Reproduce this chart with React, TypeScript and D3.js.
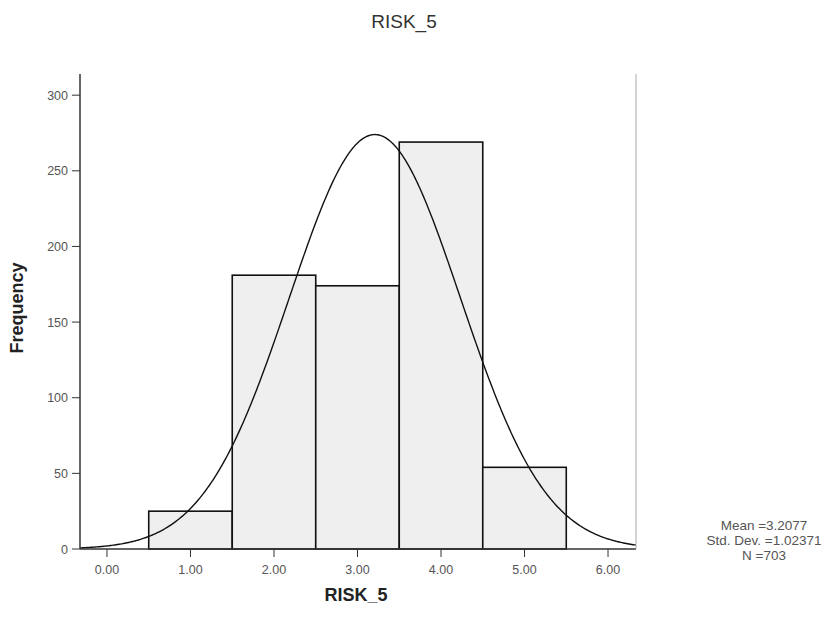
import React from "react";
import * as d3 from "d3";

const binStarts = [0.5, 1.5, 2.5, 3.5, 4.5];
const binWidth = 1;
const frequencies = [25, 181, 174, 269, 54];
const xTicks = [0, 1, 2, 3, 4, 5, 6];
const yTicks = [0, 50, 100, 150, 200, 250, 300];
const meanValue = 3.2077;
const sdValue = 1.02371;
const nValue = 703;
const legendLines = ["Mean =3.2077", "Std. Dev. =1.02371", "N =703"];

const W = 821;
const H = 621;
const left = 80;
const right = 636;
const top = 74;
const bottom = 549;

export default function App() {
  const x = d3.scaleLinear().domain([-0.323, 6.335]).range([left, right]);
  const y = d3.scaleLinear().domain([0, 314]).range([bottom, top]);

  const pdf = (v: number) =>
    ((nValue * binWidth) / (sdValue * Math.sqrt(2 * Math.PI))) *
    Math.exp(-0.5 * ((v - meanValue) / sdValue) ** 2);
  const [d0, d1] = x.domain();
  const pts: [number, number][] = d3.range(0, 401).map((i) => {
    const v = d0 + (i / 400) * (d1 - d0);
    return [v, pdf(v)];
  });
  const line = d3
    .line<[number, number]>()
    .x((d) => x(d[0]))
    .y((d) => y(d[1]));

  const font = "Arial, 'Liberation Sans', sans-serif";

  return (
    <svg
      width={W}
      height={H}
      style={{ position: "absolute", left: 0, top: 0, background: "#fff" }}
      fontFamily={font}
    >
      <rect x={0} y={0} width={W} height={H} fill="#fff" />
      <text x={404} y={28} textAnchor="middle" fontSize={19} fill="#333">
        RISK_5
      </text>

      {frequencies.map((f, i) => (
        <rect
          key={i}
          x={x(binStarts[i])}
          y={y(f)}
          width={x(binStarts[i] + binWidth) - x(binStarts[i])}
          height={y(0) - y(f)}
          fill="#efefef"
          stroke="#111"
          strokeWidth={1.6}
        />
      ))}

      <path d={line(pts) || ""} fill="none" stroke="#111" strokeWidth={1.4} />

      <line x1={left} x2={left} y1={top} y2={bottom} stroke="#333" strokeWidth={1.5} />
      <line x1={left} x2={right} y1={bottom} y2={bottom} stroke="#333" strokeWidth={1.5} />
      <line x1={right} x2={right} y1={top} y2={bottom} stroke="#aaa" strokeWidth={1} />

      {yTicks.map((t) => (
        <g key={"y" + t}>
          <line x1={left - 8} x2={left} y1={y(t)} y2={y(t)} stroke="#333" strokeWidth={1} />
          <text x={left - 12} y={y(t) + 4.5} textAnchor="end" fontSize={12.5} fill="#555">
            {t}
          </text>
        </g>
      ))}
      {xTicks.map((t) => (
        <g key={"x" + t}>
          <line x1={x(t)} x2={x(t)} y1={bottom} y2={bottom + 8} stroke="#333" strokeWidth={1} />
          <text x={x(t)} y={bottom + 25} textAnchor="middle" fontSize={12.5} fill="#555">
            {t.toFixed(2)}
          </text>
        </g>
      ))}

      <text x={356} y={601} textAnchor="middle" fontSize={18} fontWeight="bold" fill="#222">
        RISK_5
      </text>
      <text
        transform={`translate(23, 308) rotate(-90)`}
        textAnchor="middle"
        fontSize={18}
        fontWeight="bold"
        fill="#222"
      >
        Frequency
      </text>

      {legendLines.map((s, i) => (
        <text key={s} x={764} y={530 + i * 15} textAnchor="middle" fontSize={13.5} fill="#555">
          {s}
        </text>
      ))}
    </svg>
  );
}
